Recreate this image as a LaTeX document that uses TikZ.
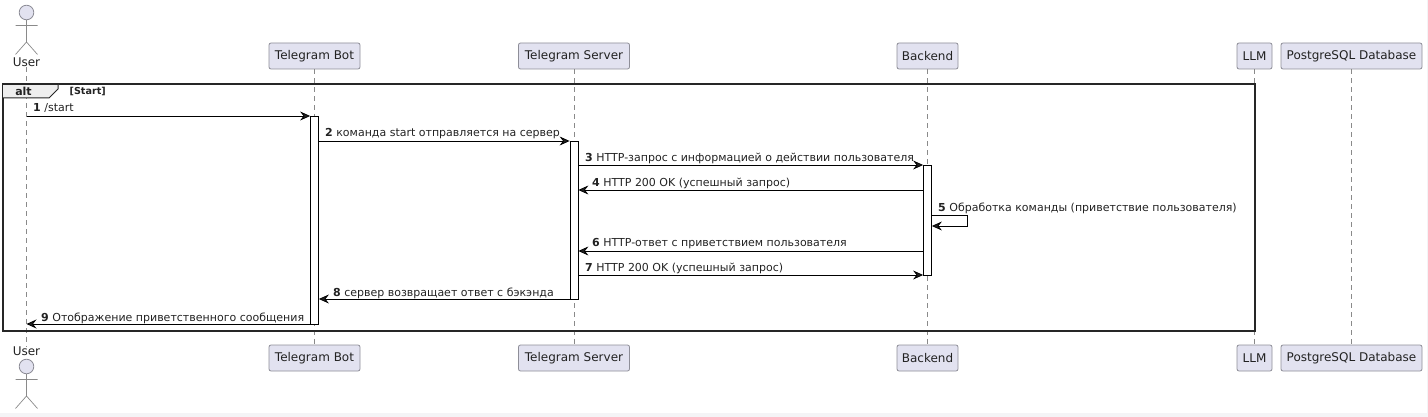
\documentclass[tikz,border=0pt]{standalone}
\usepackage{fontspec}
\setmainfont{DejaVu Sans}
\usetikzlibrary{arrows.meta}
\definecolor{partfill}{HTML}{E2E2F0}
\definecolor{partline}{HTML}{8E8E98}
\definecolor{lifeline}{HTML}{8A8A8A}
\definecolor{ink}{HTML}{222222}
\definecolor{band}{HTML}{F4F4F6}
\definecolor{tabfill}{HTML}{EEEEEE}
\tikzset{
  part/.style={draw=partline,fill=partfill,rounded corners=2pt,line width=.8pt,minimum height=26pt,inner sep=0pt,text=ink,font=\fontsize{12}{13}\selectfont,anchor=center},
  life/.style={draw=lifeline,line width=.7pt,dash pattern=on 4.5pt off 4.5pt},
  act/.style={draw=black,fill=white,line width=.8pt,minimum width=8pt,inner sep=0pt,anchor=north},
  msg/.style={draw=black,line width=.8pt,-{Stealth[length=10pt,width=9pt,inset=3.5pt,fill=ink]}},
  lab/.style={anchor=base west,inner sep=0pt,text=ink,font=\fontsize{11}{12}\selectfont},
  actorlabel/.style={inner sep=0pt,text=ink,font=\fontsize{12}{13}\selectfont},
  limb/.style={draw=lifeline,line width=.7pt},
}
\begin{document}
\begin{tikzpicture}[x=1pt,y=-1pt]
\useasboundingbox (0,0) rectangle (1428,417);
\fill[band] (0,413) rectangle (1428,417);
\fill[band] (1427,0) rectangle (1428,417);
% participants
\node[part,minimum width=91pt] (botT) at (314.5,56) {Telegram Bot};
\node[part,minimum width=111pt] (srvT) at (574,56) {Telegram Server};
\node[part,minimum width=61pt] (bckT) at (927.5,56) {Backend};
\node[part,minimum width=35pt] (llmT) at (1254.5,56) {LLM};
\node[part,minimum width=141pt] (dbT) at (1351.5,56) {PostgreSQL Database};
\node[part,minimum width=91pt] (botB) at (314.5,358) {Telegram Bot};
\node[part,minimum width=111pt] (srvB) at (574,358) {Telegram Server};
\node[part,minimum width=61pt] (bckB) at (927.5,358) {Backend};
\node[part,minimum width=35pt] (llmB) at (1254.5,358) {LLM};
\node[part,minimum width=141pt] (dbB) at (1351.5,358) {PostgreSQL Database};
\node[actorlabel] (usrT) at (26.5,62.5) {User};
\node[actorlabel] (usrB) at (26.5,351.5) {User};
% lifelines
\draw[life] (usrT.south) -- (usrB.north);
\draw[life] (botT.south) -- (botB.north);
\draw[life] (srvT.south) -- (srvB.north);
\draw[life] (bckT.south) -- (bckB.north);
\draw[life] (llmT.south) -- (llmB.north);
\draw[life] (dbT.south) -- (dbB.north);
% actors
\filldraw[fill=partfill,draw=partline,line width=.8pt] (26.5,12.5) circle (7.3pt);
\draw[limb] (26.5,20) -- (26.5,42) (15.5,25.5) -- (37.5,25.5) (15.5,54.5) -- (26.5,42) -- (37.5,54.5);
\filldraw[fill=partfill,draw=partline,line width=.8pt] (26.5,366.5) circle (7.3pt);
\draw[limb] (26.5,374) -- (26.5,396) (15.5,379.5) -- (37.5,379.5) (15.5,408.5) -- (26.5,396) -- (37.5,408.5);
% activations
\node[act,minimum height=208pt] (aBot) at (314.5,116) {};
\node[act,minimum height=158pt] (aSrv) at (574,141) {};
\node[act,minimum height=110pt] (aBck) at (927.5,165) {};
% frame
\draw[black!85,line width=1.3pt] (3,84) rectangle (1255,331);
\fill[tabfill] (3,84) -- (58,84) -- (58,89) -- (49,98) -- (3,98) -- cycle;
\draw[black!85,line width=1pt] (58,84) -- (58,89) -- (49,98) -- (3,98);
\draw[black!85,line width=1.3pt] (3,84) -- (58,84);
\node[inner sep=0pt,text=ink,font=\fontsize{11}{12}\selectfont\bfseries] (altlab) at (23.5,91) {alt};
\node[inner sep=0pt,text=ink,anchor=west,font=\fontsize{9.6}{10}\selectfont\bfseries] (altcond) at (69.5,91.5) {[Start]};
% message endpoints
\coordinate (m1a) at (usrT |- 0,116); \coordinate (m1b) at (aBot.west |- 0,116);
\coordinate (m2a) at (aBot.east |- 0,141); \coordinate (m2b) at (aSrv.west |- 0,141);
\coordinate (m3a) at (aSrv.east |- 0,165); \coordinate (m3b) at (aBck.west |- 0,165);
\coordinate (m4a) at (aBck.west |- 0,190); \coordinate (m4b) at (aSrv.east |- 0,190);
\coordinate (m5a) at (aBck.east |- 0,215); \coordinate (m5b) at (aBck.east |- 0,226);
\coordinate (m6a) at (aBck.west |- 0,251); \coordinate (m6b) at (aSrv.east |- 0,251);
\coordinate (m7a) at (aSrv.east |- 0,275); \coordinate (m7b) at (aBck.west |- 0,275);
\coordinate (m8a) at (aSrv.west |- 0,299); \coordinate (m8b) at (aBot.east |- 0,299);
\coordinate (m9a) at (aBot.west |- 0,324); \coordinate (m9b) at (usrT |- 0,324);
\draw[msg] (m1a) -- (m1b);
\draw[msg] (m2a) -- (m2b);
\draw[msg] (m3a) -- (m3b);
\draw[msg] (m4a) -- (m4b);
\draw[msg] (m5a) -- ++(35.5,0) |- (m5b);
\draw[msg] (m6a) -- (m6b);
\draw[msg] (m7a) -- (m7b);
\draw[msg] (m8a) -- (m8b);
\draw[msg] (m9a) -- (m9b);
% labels
\node[lab] (l1) at (33,112) {\textbf{1} /start};
\node[lab] (l2) at (325,137) {\textbf{2} команда start отправляется на сервер};
\node[lab] (l3) at (585,162) {\textbf{3} HTTP-запрос с информацией о действии пользователя};
\node[lab] (l4) at (592,186.5) {\textbf{4} HTTP 200 OK (успешный запрос)};
\node[lab] (l5) at (938,211.5) {\textbf{5} Обработка команды (приветствие пользователя)};
\node[lab] (l6) at (592,247) {\textbf{6} HTTP-ответ с приветствием пользователя};
\node[lab] (l7) at (585,271.5) {\textbf{7} HTTP 200 OK (успешный запрос)};
\node[lab] (l8) at (333,296) {\textbf{8} сервер возвращает ответ с бэкэнда};
\node[lab] (l9) at (41,321) {\textbf{9} Отображение приветственного сообщения};
\end{tikzpicture}
\end{document}
